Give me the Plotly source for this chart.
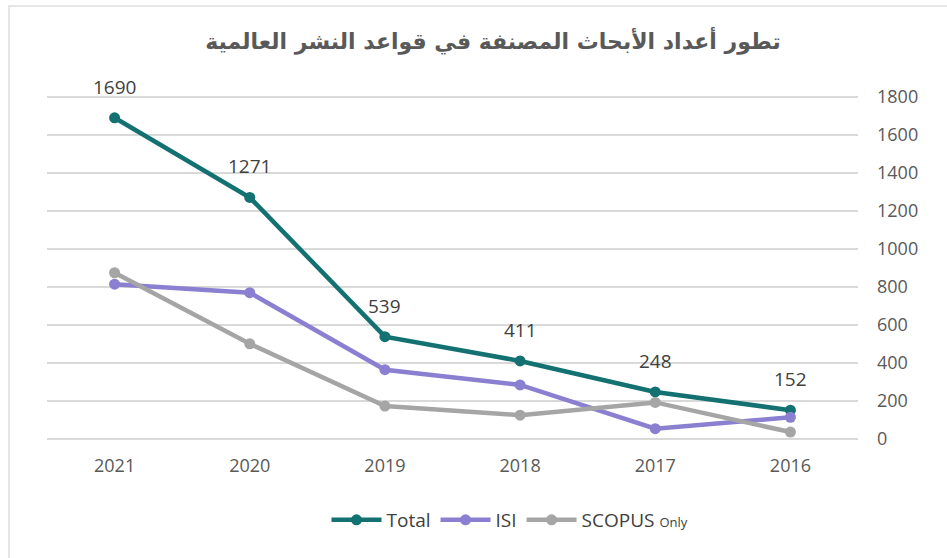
import plotly.graph_objects as go

years = ["2021", "2020", "2019", "2018", "2017", "2016"]
total = [1690, 1271, 539, 411, 248, 152]
isi = [815, 770, 365, 285, 55, 115]
scopus_only = [875, 501, 174, 126, 193, 37]
y_ticks = [0, 200, 400, 600, 800, 1000, 1200, 1400, 1600, 1800]

TITLE = "تطور أعداد الأبحاث المصنفة في قواعد النشر العالمية"
FONT = "Open Sans, DejaVu Sans, sans-serif"

# plot area in pixels
W, H = 947, 558
L, R, T, B = 47, 89, 95, 117
pw, ph = W - L - R, H - T - B

def px_x(x):
    return (x - L) / pw

def px_y(y):
    return (H - B - y) / ph

fig = go.Figure()

series = [
    ("Total", total, "#137171"),
    ("ISI", isi, "#8a7fd1"),
    ("SCOPUS <span style='font-size:13px'>Only</span>", scopus_only, "#a5a5a5"),
]
for name, vals, color in series:
    fig.add_trace(go.Scatter(
        x=years, y=vals, name=name, mode="lines+markers",
        line=dict(color=color, width=4.5),
        marker=dict(color=color, size=11),
    ))

# value labels for the Total series (category index on the x axis)
for i, v in enumerate(total):
    fig.add_annotation(
        x=i, y=v, text=str(v), showarrow=False, yshift=31,
        font=dict(family=FONT, size=19, color="#404040"),
    )

# chart frame
fig.add_shape(
    type="rect", xref="paper", yref="paper", layer="below",
    x0=px_x(9), x1=px_x(960), y0=px_y(6), y1=px_y(570),
    line=dict(color="#dedede", width=1.5),
)

fig.update_layout(
    width=W, height=H,
    margin=dict(l=L, r=R, t=T, b=B),
    paper_bgcolor="white", plot_bgcolor="white",
    title=dict(
        text=f"<b>{TITLE}</b>", xref="container", x=493 / W, xanchor="center",
        yref="container", y=1 - 41 / H, yanchor="middle",
        font=dict(family="DejaVu Sans, sans-serif", size=22, color="#595959"),
    ),
    xaxis=dict(
        type="category", range=[-0.5, len(years) - 0.5],
        showgrid=False, zeroline=False, showline=False,
        ticks="", tickfont=dict(family=FONT, size=18, color="#595959"),
        ticklabelstandoff=12,
    ),
    yaxis=dict(
        side="right", range=[-10, 1810], tickvals=y_ticks,
        showgrid=True, gridcolor="#d9d9d9", gridwidth=1.5,
        zeroline=True, zerolinecolor="#d9d9d9", zerolinewidth=1.5,
        showline=False, ticks="",
        tickfont=dict(family=FONT, size=18, color="#595959"),
        ticklabelstandoff=18,
    ),
    legend=dict(
        orientation="h", x=px_x(510), xanchor="center",
        y=px_y(520), yanchor="middle",
        font=dict(family=FONT, size=19, color="#404040"),
        itemwidth=50, tracegroupgap=0,
    ),
    showlegend=True,
)

fig.write_html("out.html")
